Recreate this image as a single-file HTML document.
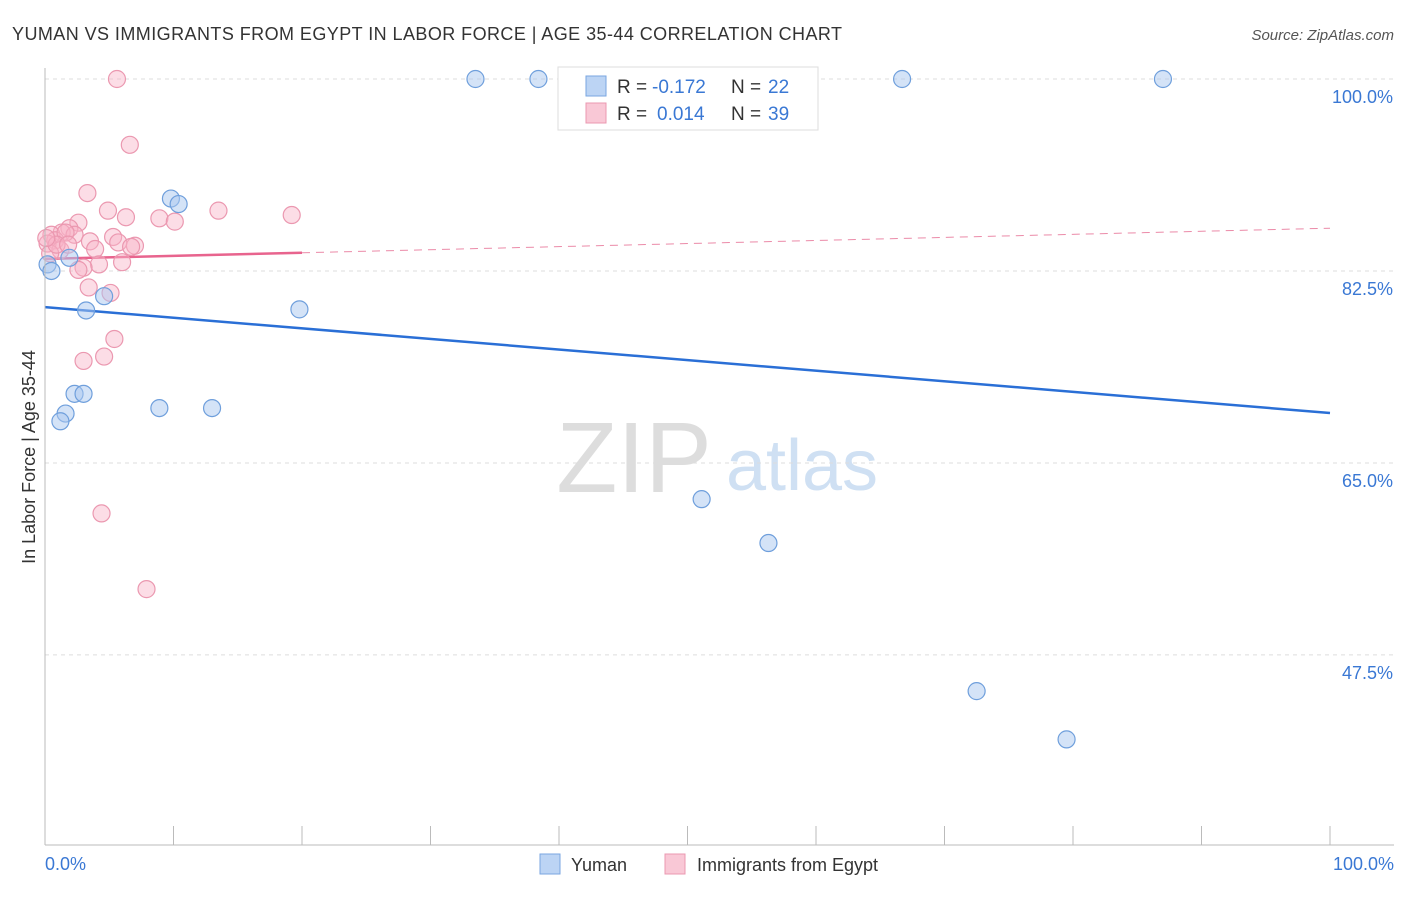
<!DOCTYPE html>
<html><head><meta charset="utf-8"><style>
body{margin:0;background:#fff;font-family:"Liberation Sans",sans-serif}
svg text{font-family:"Liberation Sans",sans-serif}
</style></head><body>
<svg id="c" width="1406" height="892" xmlns="http://www.w3.org/2000/svg">
<text x="12" y="40" font-size="18" fill="#333" textLength="830">YUMAN VS IMMIGRANTS FROM EGYPT IN LABOR FORCE | AGE 35-44 CORRELATION CHART</text>
<text x="1394" y="40" font-size="15" fill="#555" font-style="italic" text-anchor="end">Source: ZipAtlas.com</text>
<text x="35" y="457" font-size="18" fill="#333" transform="rotate(-90 35 457)" text-anchor="middle">In Labor Force | Age 35-44</text>
<text x="634" y="492" font-size="100" fill="#ddd" font-family="Liberation Serif" text-anchor="middle">ZIP</text>
<text x="802" y="490" font-size="72" fill="#cfe0f3" text-anchor="middle">atlas</text>
<g id="grid"></g><g id="ticks"></g><g id="lines"></g><g id="pts"></g>
<line x1="45" y1="68" x2="45" y2="845" stroke="#bbb"/>
<line x1="45" y1="845" x2="1394" y2="845" stroke="#bbb"/>
<text x="45" y="870" font-size="18" fill="#3a78d4">0.0%</text>
<text x="1394" y="870" font-size="18" fill="#3a78d4" text-anchor="end">100.0%</text>
<g>
<rect x="558" y="67" width="260" height="63" fill="#fff" stroke="#ddd"/>
<rect x="586" y="76" width="20" height="20" fill="#bcd4f4" stroke="#7aa6e0"/>
<rect x="586" y="103" width="20" height="20" fill="#f9c8d6" stroke="#eb98b0"/>
<text x="617" y="93" font-size="19" fill="#333">R =</text>
<text x="652" y="93" font-size="19" fill="#3a78d4">-0.172</text>
<text x="731" y="93" font-size="19" fill="#333">N =</text>
<text x="768" y="93" font-size="19" fill="#3a78d4">22</text>
<text x="617" y="120" font-size="19" fill="#333">R =</text>
<text x="657" y="120" font-size="19" fill="#3a78d4">0.014</text>
<text x="731" y="120" font-size="19" fill="#333">N =</text>
<text x="768" y="120" font-size="19" fill="#3a78d4">39</text>
</g>
<g>
<rect x="540" y="854" width="20" height="20" fill="#bcd4f4" stroke="#7aa6e0"/>
<text x="571" y="871" font-size="18" fill="#333">Yuman</text>
<rect x="665" y="854" width="20" height="20" fill="#f9c8d6" stroke="#eb98b0"/>
<text x="697" y="871" font-size="18" fill="#333">Immigrants from Egypt</text>
</g>
</svg>
<script>
const yTicks=[100,82.5,65,47.5];
const yTickLabels=["100.0%","82.5%","65.0%","47.5%"];
const blueX=[33.5,38.4,66.7,87.0,9.8,10.4,1.9,0.2,0.5,4.6,3.2,19.8,2.3,3.0,1.6,1.2,8.9,13.0,51.1,56.3,72.5,79.5];
const blueY=[100,100,100,100,89.1,88.6,83.7,83.1,82.5,80.2,78.9,79.0,71.3,71.3,69.5,68.8,70.0,70.0,61.7,57.7,44.2,39.8];
const pinkX=[5.6,6.6,3.3,4.9,13.5,19.2,6.3,8.9,10.1,2.6,1.9,1.3,0.5,0.8,2.3,5.3,3.5,5.7,7.0,6.7,3.9,0.2,1.2,0.4,4.2,6.0,3.0,2.6,3.4,5.1,5.4,3.0,4.6,4.4,7.9,1.6,0.9,0.1,1.8];
const pinkY=[100,94.0,89.6,88.0,88.0,87.6,87.4,87.3,87.0,86.9,86.4,86.0,85.8,85.3,85.8,85.6,85.2,85.1,84.8,84.7,84.5,85.0,84.4,84.1,83.1,83.3,82.8,82.6,81.0,80.5,76.3,74.3,74.7,60.4,53.5,86.0,84.9,85.5,84.9];
const blueTrend=[79.2,69.55];
const pinkTrend=[83.6,86.4];
const pinkSolidEnd=20;
const X=v=>45+v*12.85, Y=v=>79+(100-v)*10.97;
const NS="http://www.w3.org/2000/svg";
function mk(t,a,p){const e=document.createElementNS(NS,t);for(const k in a)e.setAttribute(k,a[k]);p.appendChild(e);return e;}
const g=document.getElementById('grid'),tk=document.getElementById('ticks'),ln=document.getElementById('lines'),pts=document.getElementById('pts');
yTicks.forEach((v,i)=>{
 const l=mk('line',{x1:45,x2:1394,y1:Y(v),y2:Y(v),stroke:'#ddd','stroke-dasharray':'4 4'},g);
 
 
 const t=mk('text',{x:1393,y:Y(v)+24,'font-size':18,fill:'#3a78d4','text-anchor':'end'},tk);
 t.textContent=yTickLabels[i];
 
 
});
for(let i=1;i<=10;i++){
 const l=mk('line',{x1:X(i*10),x2:X(i*10),y1:826,y2:845,stroke:'#bbb'},tk);
 
 
}
const by=x=>blueTrend[0]+(blueTrend[1]-blueTrend[0])*x/100, py=x=>pinkTrend[0]+(pinkTrend[1]-pinkTrend[0])*x/100;
let l1=mk('line',{x1:X(0),y1:Y(by(0)),x2:X(100),y2:Y(by(100)),stroke:'#2a6fd6','stroke-width':2.5},ln);


let l2=mk('line',{x1:X(pinkSolidEnd),y1:Y(py(pinkSolidEnd)),x2:X(100),y2:Y(py(100)),stroke:'#eb8aa8','stroke-width':1,'stroke-dasharray':'8 6'},ln);


let l3=mk('line',{x1:X(0),y1:Y(py(0)),x2:X(pinkSolidEnd),y2:Y(py(pinkSolidEnd)),stroke:'#e8648e','stroke-width':2.5},ln);


pinkX.forEach((x,i)=>{
 const c=mk('circle',{cx:X(x),cy:Y(pinkY[i]),r:8.5,fill:'rgba(248,180,200,0.45)',stroke:'#eb98b0','stroke-width':1.2},pts);
 
 
});
blueX.forEach((x,i)=>{
 const c=mk('circle',{cx:X(x),cy:Y(blueY[i]),r:8.5,fill:'rgba(170,200,240,0.5)',stroke:'#6f9fdc','stroke-width':1.2},pts);
 
 
});
</script>
</body></html>
